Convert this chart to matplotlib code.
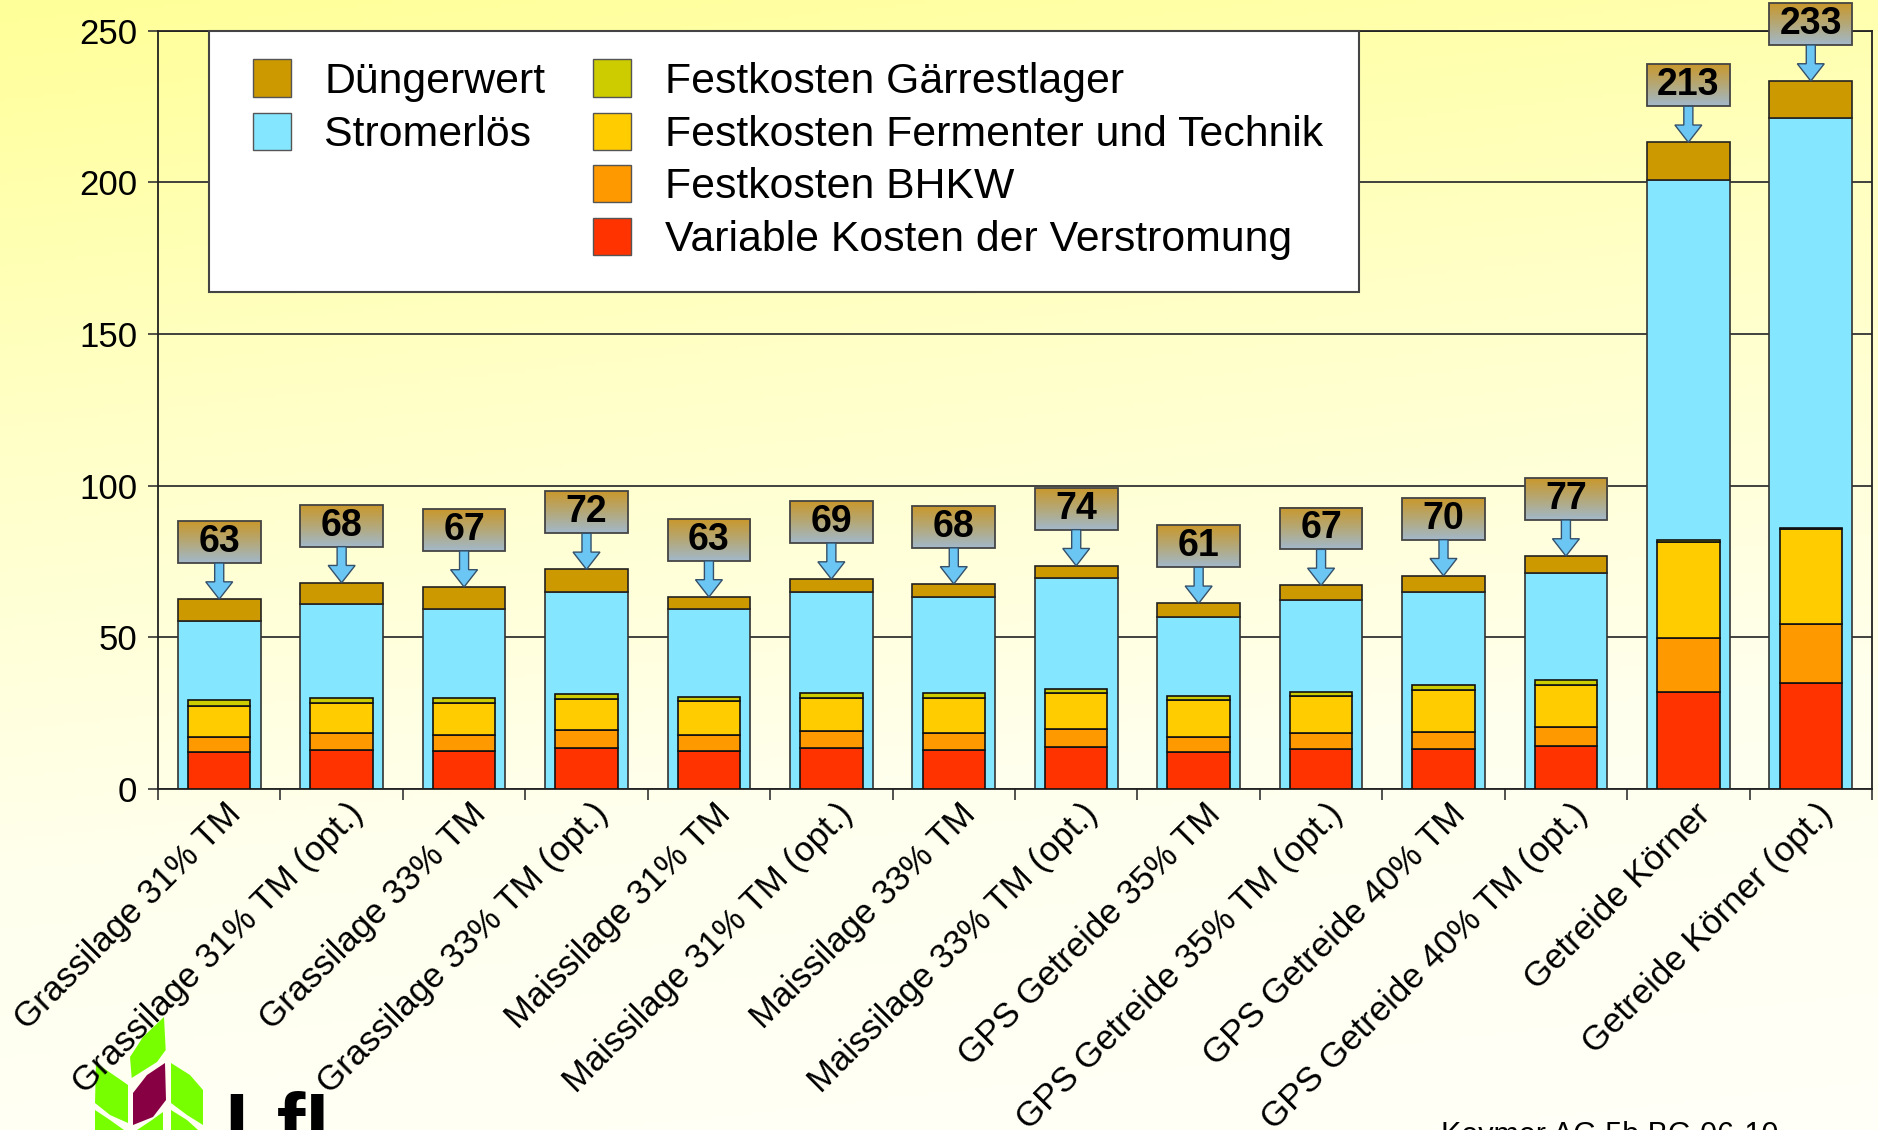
import numpy as np
import matplotlib.pyplot as plt
from matplotlib.patches import Polygon, Rectangle
from matplotlib.colors import LinearSegmentedColormap
from matplotlib.transforms import ScaledTranslation

categories = [
    "Grassilage 31% TM", "Grassilage 31% TM (opt.)",
    "Grassilage 33% TM", "Grassilage 33% TM (opt.)",
    "Maissilage 31% TM", "Maissilage 31% TM (opt.)",
    "Maissilage 33% TM", "Maissilage 33% TM (opt.)",
    "GPS Getreide 35% TM", "GPS Getreide 35% TM (opt.)",
    "GPS Getreide 40% TM", "GPS Getreide 40% TM (opt.)",
    "Getreide Körner", "Getreide Körner (opt.)",
]

# revenue side (wide bars)
strom = [55.5, 61.0, 59.2, 65.0, 59.2, 65.1, 63.2, 69.4, 56.8, 62.4, 65.0, 71.3, 200.8, 221.1]
duenger = [7.1, 7.0, 7.4, 7.4, 4.1, 4.1, 4.4, 4.2, 4.4, 4.7, 5.3, 5.5, 12.4, 12.3]
# cost side (narrow bars)
variable = [12.1, 12.8, 12.5, 13.4, 12.5, 13.5, 13.0, 13.9, 12.1, 13.1, 13.1, 14.3, 31.9, 34.8]
bhkw = [5.0, 5.6, 5.3, 5.9, 5.3, 5.7, 5.4, 5.9, 5.2, 5.4, 5.8, 6.3, 17.9, 19.5]
fermenter = [10.1, 10.1, 10.5, 10.5, 11.1, 10.8, 11.6, 11.9, 12.1, 12.1, 13.8, 13.8, 31.5, 31.3]
gaerrest = [2.0, 1.5, 1.7, 1.6, 1.3, 1.7, 1.7, 1.3, 1.3, 1.4, 1.6, 1.5, 0.7, 0.3]
# callout values
totals_label = [63, 68, 67, 72, 63, 69, 68, 74, 61, 67, 70, 77, 213, 233]

legend_names = ["Düngerwert", "Stromerlös", "Festkosten Gärrestlager",
                "Festkosten Fermenter und Technik", "Festkosten BHKW",
                "Variable Kosten der Verstromung"]
col_dueng = "#CC9900"
col_strom = "#84E6FF"
col_gaer = "#CCCC00"
col_ferm = "#FFCC00"
col_bhkw = "#FF9900"
col_var = "#FF3300"

plt.rcParams['font.family'] = ['Liberation Sans', 'DejaVu Sans']

W, H = 1878, 1130
fig = plt.figure(figsize=(W / 100, H / 100), dpi=100)

# background gradient
bg = fig.add_axes([0, 0, 1, 1], zorder=-10)
yy, xx = np.mgrid[0:1:300j, 0:1:300j]
bg_cmap = LinearSegmentedColormap.from_list("bg", ["#FFFF99", "#FFFFC8", "#FFFFEE", "#FFFFF8"])
bg.imshow(0.85 * yy + 0.15 * xx, cmap=bg_cmap, aspect="auto", extent=[0, 1, 0, 1])
bg.set_xlim(0, 1)
bg.set_ylim(0, 1)
bg.axis("off")


def fx(px):
    return px / W


def fy(py):
    return 1 - py / H


# logo (bottom left, cut off)
leaves = [
    ([(131.7, 1078), (130, 1057), (143, 1037), (164, 1017), (165.7, 1050), (157, 1062)], "#77FF00"),
    ([(96, 1063), (118, 1078), (128, 1085), (128, 1123), (110, 1115), (95, 1103)], "#77FF00"),
    ([(133, 1093), (147, 1075), (165, 1063), (166, 1100), (153, 1117), (133, 1125)], "#880044"),
    ([(171, 1063), (190, 1075), (203, 1090), (203, 1125), (187, 1115), (171, 1103)], "#77FF00"),
    ([(95, 1110), (110, 1120), (124, 1130), (95, 1130)], "#77FF00"),
    ([(137, 1130), (152, 1120), (163, 1112), (163, 1130)], "#77FF00"),
    ([(171, 1110), (187, 1120), (198, 1130), (171, 1130)], "#77FF00"),
]
for pts, c in leaves:
    fig.patches.append(Polygon([(fx(a), fy(b)) for a, b in pts], closed=True,
                               transform=fig.transFigure, fc=c, ec="none", zorder=-5))
fig.text(fx(224), fy(1091), "LfL", fontsize=62, fontweight="bold", va="top", ha="left", zorder=-5)
fig.text(fx(1441), fy(1121), "Keymer AG 5b BG 06-10", fontsize=22, va="top", ha="left")

# main axes
ax = fig.add_axes([fx(158), fy(789), (1872 - 158) / W, (789 - 30.7) / H])
ax.patch.set_alpha(0)

x = np.arange(len(categories))
w_out = 0.675
w_in = 0.51
ax.bar(x, strom, w_out, color=col_strom, edgecolor="#333333", lw=1.2, zorder=2)
ax.bar(x, duenger, w_out, bottom=strom, color=col_dueng, edgecolor="#222222", lw=1.2, zorder=2)

bottom = np.zeros(len(x))
for vals, c in [(variable, col_var), (bhkw, col_bhkw), (fermenter, col_ferm), (gaerrest, col_gaer)]:
    ax.bar(x, vals, w_in, bottom=bottom, color=c, edgecolor="#111111", lw=1.2, zorder=3)
    bottom += np.array(vals)

# callouts with arrows
totals = np.array(strom) + np.array(duenger)
box_cmap = LinearSegmentedColormap.from_list("box", ["#C9982C", "#B4A878", "#A2B8CA"])
grad = np.linspace(0, 1, 100).reshape(-1, 1)
gap, box_h = 11.9, 13.8
sw, hw, hl = 0.037, 0.11, 5.7
for xi, tot, lab in zip(x, totals, totals_label):
    lo = tot + gap
    ax.imshow(grad, cmap=box_cmap, extent=[xi - w_out / 2, xi + w_out / 2, lo, lo + box_h],
              aspect="auto", origin="upper", zorder=5, clip_on=False)
    ax.add_patch(Rectangle((xi - w_out / 2, lo), w_out, box_h, fill=False, ec="#444444",
                           lw=1.3, zorder=6, clip_on=False))
    ax.text(xi, lo + box_h / 2, str(lab), ha="center", va="center", fontsize=27,
            fontweight="bold", zorder=7, clip_on=False)
    arrow = [(xi - sw, lo), (xi + sw, lo), (xi + sw, tot + hl), (xi + hw, tot + hl),
             (xi, tot), (xi - hw, tot + hl), (xi - sw, tot + hl)]
    ax.add_patch(Polygon(arrow, closed=True, fc="#6CC6F4", ec="#35506A", lw=1.0,
                         zorder=6, clip_on=False))

ax.set_xlim(-0.5, len(categories) - 0.5)
ax.set_ylim(0, 250)
ax.set_yticks(range(0, 251, 50))
ax.yaxis.grid(True, color="#333333", lw=1.3, zorder=0)
ax.set_axisbelow(True)
for s in ax.spines.values():
    s.set_color("#222222")
    s.set_linewidth(1.3)

ax.set_xticks(x)
ax.set_xticklabels(categories, rotation=45, ha="right", va="top", rotation_mode="anchor", fontsize=25)
ax.set_xticks(np.arange(-0.5, len(categories), 1), minor=True)
ax.tick_params(axis="x", which="major", length=0, pad=6)
ax.tick_params(axis="x", which="minor", length=8, width=1.2, color="#333333")
ax.tick_params(axis="y", length=7, width=1.2, color="#333333", labelsize=25, pad=8)
offset = ScaledTranslation(0.05, 0, fig.dpi_scale_trans)
for lbl in ax.get_xticklabels():
    lbl.set_transform(lbl.get_transform() + offset)

# legend box: two columns (2 + 4 entries)
fig.add_artist(Rectangle((fx(209), fy(292)), fx(1359 - 209), (292 - 30.7) / H,
                         transform=fig.transFigure, fc="white", ec="#444444", lw=1.5, zorder=5))
rows = [78, 131, 183.5, 236]
entries = [(col_dueng, legend_names[0], 253, 324, rows[0]),
           (col_strom, legend_names[1], 253, 324, rows[1]),
           (col_gaer, legend_names[2], 593, 665, rows[0]),
           (col_ferm, legend_names[3], 593, 665, rows[1]),
           (col_bhkw, legend_names[4], 593, 665, rows[2]),
           (col_var, legend_names[5], 593, 665, rows[3])]
for c, name, px, tx, ry in entries:
    fig.add_artist(Rectangle((fx(px), fy(ry + 18.5)), fx(38), 37 / H, transform=fig.transFigure,
                             fc=c, ec="#555555", lw=1.0, zorder=6))
    fig.text(fx(tx), fy(ry + 4), name, fontsize=30.8, va="center", ha="left", zorder=7)

fig.savefig("out.png", dpi=100)
